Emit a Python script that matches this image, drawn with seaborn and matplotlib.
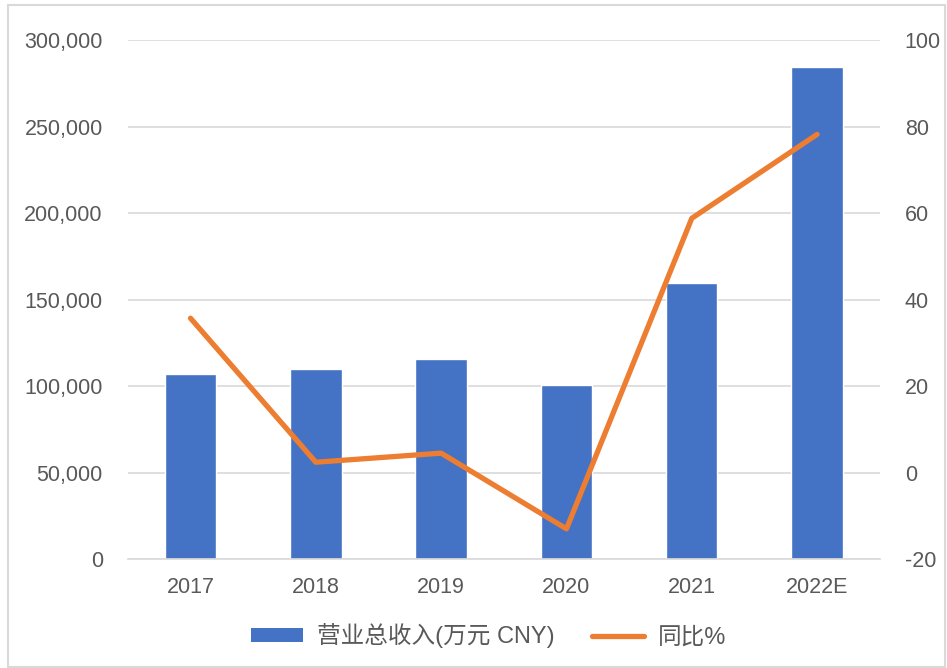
import matplotlib
matplotlib.use("Agg")
import matplotlib.pyplot as plt
import seaborn as sns
import pandas as pd
from matplotlib.ticker import FuncFormatter, MultipleLocator
from matplotlib.patches import Patch
from matplotlib.lines import Line2D

years = ["2017", "2018", "2019", "2020", "2021", "2022E"]
revenue = [107000, 110000, 115500, 100500, 159500, 284500]
yoy = [35.7, 2.4, 4.5, -13.0, 58.8, 78.2]
bar_label = "营业总收入(万元 CNY)"
line_label = "同比%"

sns.set_theme(style="white")
plt.rcParams['font.family'] = ['Liberation Sans', 'Noto Sans CJK SC', 'DejaVu Sans']
plt.rcParams['axes.unicode_minus'] = False

df = pd.DataFrame({"year": years, "revenue": revenue, "yoy": yoy})

fig = plt.figure(figsize=(9.47, 6.68), dpi=100)
ax = fig.add_axes([0.135, 0.163, 0.794, 0.777])
ax2 = ax.twinx()

blue = "#4472C4"
orange = "#ED7D31"
gray = "#595959"

sns.barplot(data=df, x="year", y="revenue", color=blue, width=0.41, ax=ax, saturation=1)
sns.lineplot(data=df, x="year", y="yoy", color=orange, linewidth=3.8, ax=ax2, sort=False)

ax.set_ylim(0, 300000)
ax.yaxis.set_major_locator(MultipleLocator(50000))
ax.yaxis.set_major_formatter(FuncFormatter(lambda v, p: f"{int(v):,}"))
ax2.set_ylim(-20, 100)
ax2.yaxis.set_major_locator(MultipleLocator(20))
ax.set_xlim(-0.5, 5.5)

ax.set_xlabel("")
ax.set_ylabel("")
ax2.set_xlabel("")
ax2.set_ylabel("")

ax.yaxis.grid(True, color="#D9D9D9", linewidth=1.2)
ax.set_axisbelow(True)
for a in (ax, ax2):
    for s in a.spines.values():
        s.set_visible(False)
ax.spines["bottom"].set_visible(True)
ax.spines["bottom"].set_color("#D9D9D9")
ax.spines["bottom"].set_linewidth(1.2)

ax.tick_params(axis="y", labelsize=15.5, colors=gray, length=0, pad=18)
ax.tick_params(axis="x", labelsize=15.5, colors=gray, length=0, pad=13)
ax2.tick_params(axis="y", labelsize=15.5, colors=gray, length=0, pad=18)

handles = [Patch(facecolor=blue, edgecolor="none", label=bar_label),
           Line2D([0], [0], color=orange, linewidth=3.8, label=line_label)]
leg = fig.legend(handles=handles, loc="center", bbox_to_anchor=(0.516, 0.048), ncol=2,
                 frameon=False, fontsize=17, handlelength=2.2, handleheight=0.55,
                 columnspacing=1.6, handletextpad=0.6)
for t in leg.get_texts():
    t.set_color(gray)

fig.patches.append(plt.Rectangle((0.008, 0.002), 0.99, 0.99, transform=fig.transFigure,
                                 fill=False, edgecolor="#D9D9D9", linewidth=1.5))

fig.savefig("out.png", dpi=100)
